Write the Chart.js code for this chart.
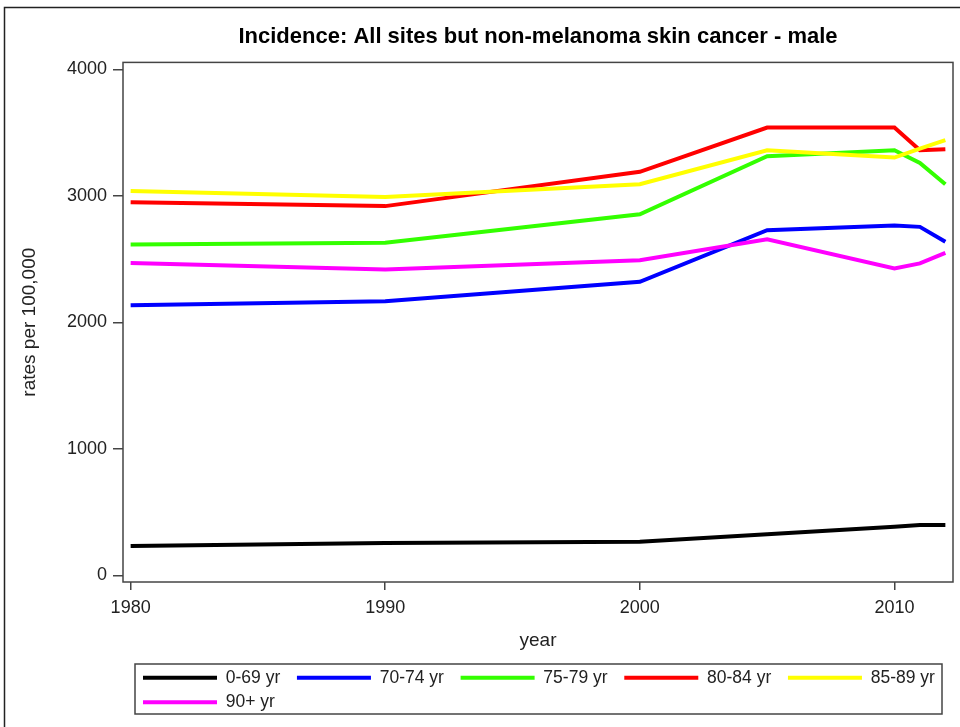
<!DOCTYPE html>
<html>
<head>
<meta charset="utf-8">
<script src="https://cdn.jsdelivr.net/npm/chart.js@4"></script>
<style>
  body { margin: 0; background: #fff; }
  #chart { display: block; }
</style>
</head>
<body>
<canvas id="chart" width="960" height="727"></canvas>
<script>
const years = [1980, 1990, 2000, 2005, 2010, 2011, 2012];
const labels = ["0-69 yr", "70-74 yr", "75-79 yr", "80-84 yr", "85-89 yr", "90+ yr"];
const age0_69 = [233, 257, 267, 325, 385, 399, 399];
const age70_74 = [2135, 2168, 2321, 2729, 2766, 2755, 2637];
const age75_79 = [2615, 2629, 2855, 3314, 3361, 3261, 3092];
const age80_84 = [2950, 2919, 3190, 3540, 3540, 3361, 3369];
const age85_89 = [3038, 2992, 3092, 3361, 3303, 3374, 3440];
const age90plus = [2470, 2419, 2492, 2656, 2427, 2466, 2550];
const xTicks = [1980, 1990, 2000, 2010];
const yTicks = [0, 1000, 2000, 3000, 4000];

const series = [age0_69, age70_74, age75_79, age80_84, age85_89, age90plus];
const colors = ["#000000", "#0000ff", "#33ff00", "#ff0000", "#ffff00", "#ff00ff"];
const axisColor = "#444";

const frame = {
  id: "frame",
  afterLayout(chart) {
    // push the legend right so it sits inside its box
    chart.legend.left += 13;
  },
  beforeDraw(chart) {
    const ctx = chart.ctx;
    ctx.save();
    ctx.fillStyle = "#fff";
    ctx.fillRect(0, 0, chart.width, chart.height);
    ctx.restore();
  },
  afterDraw(chart) {
    const ctx = chart.ctx;
    const a = chart.chartArea;
    const lg = chart.legend;
    ctx.save();
    ctx.strokeStyle = axisColor;
    ctx.lineWidth = 1.5;
    ctx.strokeRect(a.left, a.top, a.right - a.left, a.bottom - a.top);
    ctx.strokeRect(lg.left - 1, lg.top + 2, a.right - 11 - (lg.left - 1), 50);
    ctx.strokeStyle = "#222";
    ctx.beginPath();
    ctx.moveTo(4.5, chart.height);
    ctx.lineTo(4.5, 7.5);
    ctx.lineTo(chart.width, 7.5);
    ctx.stroke();
    ctx.restore();
  }
};

new Chart(document.getElementById("chart"), {
  type: "line",
  data: {
    datasets: series.map((vals, i) => ({
      label: labels[i],
      data: vals.map((v, j) => ({ x: years[j], y: v })),
      borderColor: colors[i],
      backgroundColor: colors[i],
      borderWidth: 4,
      pointRadius: 0,
      tension: 0,
      order: series.length - i,
    })),
  },
  options: {
    responsive: false,
    animation: false,
    layout: { padding: { left: 0, right: 7, top: 0, bottom: 6 } },
    plugins: {
      title: {
        display: true,
        fullSize: false,
        text: "Incidence: All sites but non-melanoma skin cancer - male",
        color: "#000",
        font: { family: "Liberation Sans", size: 22, weight: "bold" },
        padding: { top: 24, bottom: 12 },
      },
      legend: {
        position: "bottom",
        align: "start",
        fullSize: false,
        labels: {
          boxWidth: 74,
          boxHeight: 4,
          padding: 7,
          color: "#222",
          font: { family: "Liberation Sans", size: 17.5 },
          sort: (a, b) => a.datasetIndex - b.datasetIndex,
          generateLabels(chart) {
            return Chart.defaults.plugins.legend.labels.generateLabels(chart).map((l) => {
              l.text = l.text + "  ";
              l.lineWidth = 0;
              return l;
            });
          },
        },
      },
      tooltip: { enabled: false },
    },
    scales: {
      x: {
        type: "linear",
        min: 1979.7,
        max: 2012.3,
        afterBuildTicks: (s) => { s.ticks = xTicks.map((v) => ({ value: v })); },
        afterFit: (s) => { s.height = 80; },
        border: { display: false },
        grid: { drawOnChartArea: false, drawTicks: true, tickLength: 8, color: axisColor, lineWidth: 1.5 },
        ticks: {
          padding: 7,
          color: "#222",
          maxRotation: 0,
          font: { family: "Liberation Sans", size: 18 },
          callback: (v) => String(v),
        },
        title: {
          display: true,
          text: "year",
          color: "#222",
          font: { family: "Liberation Sans", size: 19 },
          padding: { top: 0, bottom: 10 },
        },
      },
      y: {
        min: -52,
        max: 4055,
        afterBuildTicks: (s) => { s.ticks = yTicks.map((v) => ({ value: v })); },
        afterFit: (s) => { s.width = 123; },
        border: { display: false },
        grid: { drawOnChartArea: false, drawTicks: true, tickLength: 10, color: axisColor, lineWidth: 1.5 },
        ticks: {
          padding: 6,
          color: "#222",
          font: { family: "Liberation Sans", size: 18 },
          callback: (v) => String(v),
        },
        title: {
          display: true,
          text: "rates per 100,000",
          color: "#222",
          font: { family: "Liberation Sans", size: 19 },
          padding: { top: 18, bottom: 0 },
        },
      },
    },
  },
  plugins: [frame],
});
</script>
</body>
</html>
